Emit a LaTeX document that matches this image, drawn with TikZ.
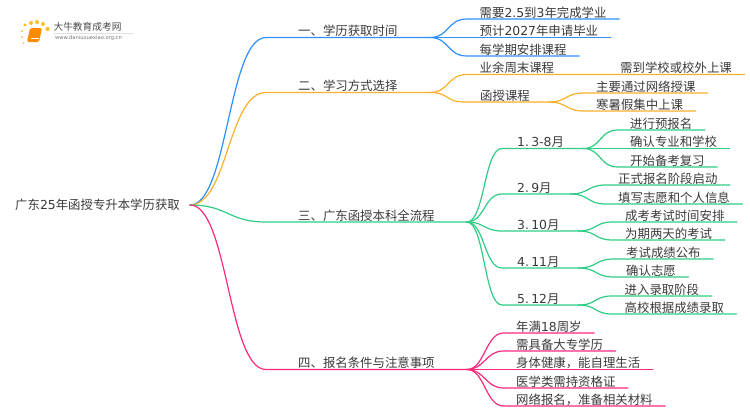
\documentclass[tikz,border=0pt]{standalone}
\usepackage{fontspec}
\setmainfont{DejaVu Sans}
\newfontfamily\cjkfont{Noto Sans CJK SC}
\newfontfamily\latfont{DejaVu Sans}
\newcommand{\lat}[1]{{\latfont\spaceskip=1pt #1}}
\definecolor{zhilan}{HTML}{2F8FFB}
\definecolor{zhicheng}{HTML}{FBB02A}
\definecolor{zhilv}{HTML}{2ECC85}
\definecolor{zhihong}{HTML}{FB2A7E}
\definecolor{zitihui}{HTML}{3A3A3A}
\tikzset{
	zi/.style={font=\cjkfont\fontsize{12.4}{14}\selectfont, text=zitihui, anchor=south west, inner ysep=0.5pt, text height=10pt, text depth=1pt},
	leaf/.style={zi, inner xsep=12.5pt},
	mid/.style={zi, inner xsep=15pt, execute at end node=\hspace{4pt}},
	top/.style={zi, inner xsep=32pt},
	bian/.style={line width=1.2pt, line cap=round}
}
\begin{document}
\begin{tikzpicture}[x=1pt,y=-1pt]
	\useasboundingbox (0,0) rectangle (750,410);
	%logo
	\foreach \dx/\dy/\dr in {25/25/1.6, 31/23/2, 37/22/2, 43/24/2, 47.5/29/2.2, 22/31/1.2, 22/37/1, 23.5/43/0.8}
		\fill[zhicheng!80!yellow] (\dx,\dy) circle (\dr);
	\fill[orange!90!yellow, rounded corners=1.5pt] (30,28) -- (42,28) -- (39,42) -- (27,42) -- cycle;
	\draw[white, line width=0.5pt] (31,38.5) -- (39,38.5);
	\draw[black!12, line width=0.5pt] (53,33) -- (133,33);
	\node[text=black!70, font=\cjkfont\fontsize{9.7}{11}\selectfont, inner sep=0pt] (logoming) at (87.5,27) {大牛教育成考网};
	\node[text=black!55, font=\latfont\fontsize{5.2}{6}\selectfont, inner sep=0pt] (logowang) at (88.5,38) {www.daniuxuexiao.org.cn};

	%Mitte
	\node[zi, anchor=east, inner xsep=10pt] (root) at (190,205) {广东\lat{25}年函授专升本学历获取};

	%Hauptzweige
	\node[top] (xueli) at (266,37.5) {一、学历获取时间};
	\node[top] (xuexi) at (266,92.5) {二、学习方式选择};
	\node[top] (liucheng) at (266,222) {三、广东函授本科全流程};
	\node[top] (tiaojian) at (266,369.5) {四、报名条件与注意事项};

	%erster Zweig
	\node[leaf] (xa) at (467,19) {需要\lat{2.5}到\lat{3}年完成学业};
	\node[leaf] (xb) at (467,37.5) {预计\lat{2027}年申请毕业};
	\node[leaf] (xc) at (467,56) {每学期安排课程};

	%zweiter Zweig
	\node[leaf] (fa) at (467,74.5) {业余周末课程};
	\node[leaf] (faa) at (607.5,74.5) {需到学校或校外上课};
	\node[mid] (fb) at (465,102) {函授课程};
	\node[leaf] (fba) at (583.5,93) {主要通过网络授课};
	\node[leaf] (fbb) at (583.5,111) {寒暑假集中上课};

	%dritter Zweig
	\node[mid] (la) at (502,148.5) {\lat{1. 3-8}月};
	\node[mid] (lb) at (502,194) {\lat{2. 9}月};
	\node[mid] (lc) at (502,231) {\lat{3. 10}月};
	\node[mid] (ld) at (502,268) {\lat{4. 11}月};
	\node[mid] (le) at (502,305) {\lat{5. 12}月};
	\node[leaf] (laa) at (617.5,130) {进行预报名};
	\node[leaf] (lab) at (617.5,148.5) {确认专业和学校};
	\node[leaf] (lac) at (617.5,167) {开始备考复习};
	\node[leaf] (lba) at (605.5,185) {正式报名阶段启动};
	\node[leaf] (lbb) at (605.5,204) {填写志愿和个人信息};
	\node[leaf] (lca) at (612.5,222) {成考考试时间安排};
	\node[leaf] (lcb) at (612.5,240) {为期两天的考试};
	\node[leaf] (lda) at (613.5,259) {考试成绩公布};
	\node[leaf] (ldb) at (613.5,277) {确认志愿};
	\node[leaf] (lea) at (612,296) {进入录取阶段};
	\node[leaf] (leb) at (612,314) {高校根据成绩录取};

	%vierter Zweig
	\node[leaf] (ta) at (503.5,333) {年满\lat{18}周岁};
	\node[leaf] (tb) at (503.5,351) {需具备大专学历};
	\node[leaf] (tc) at (503.5,369.5) {身体健康，能自理生活};
	\node[leaf] (td) at (503.5,388) {医学类需持资格证};
	\node[leaf] (te) at (503.5,406) {网络报名，准备相关材料};

	%Verbindungen
	\draw[bian, zhilan] (root.east) .. controls +(38,0) and +(-38,0) .. (xueli.south west) -- (xueli.south east);
	\foreach \ziel in {xa,xb,xc}
		\draw[bian, zhilan] (xueli.south east) .. controls +(20,0) and +(-20,0) .. (\ziel.south west) -- (\ziel.south east);

	\draw[bian, zhicheng] (root.east) .. controls +(38,0) and +(-38,0) .. (xuexi.south west) -- (xuexi.south east);
	\draw[bian, zhicheng] (xuexi.south east) .. controls +(20,0) and +(-20,0) .. (fa.south west) -- (fa.south east) -- (faa.south west) -- (faa.south east);
	\draw[bian, zhicheng] (xuexi.south east) .. controls +(20,0) and +(-20,0) .. (fb.south west) -- (fb.south east);
	\foreach \ziel in {fba,fbb}
		\draw[bian, zhicheng] (fb.south east) .. controls +(18,0) and +(-18,0) .. (\ziel.south west) -- (\ziel.south east);

	\draw[bian, zhilv] (root.east) .. controls +(38,0) and +(-38,0) .. (liucheng.south west) -- (liucheng.south east);
	\foreach \ziel in {la,lb,lc,ld,le}
		\draw[bian, zhilv] (liucheng.south east) .. controls +(18,0) and +(-18,0) .. (\ziel.south west) -- (\ziel.south east);
	\foreach \von/\ziel in {la/laa,la/lab,la/lac,lb/lba,lb/lbb,lc/lca,lc/lcb,ld/lda,ld/ldb,le/lea,le/leb}
		\draw[bian, zhilv] (\von.south east) .. controls +(18,0) and +(-18,0) .. (\ziel.south west) -- (\ziel.south east);

	\draw[bian, zhihong] (root.east) .. controls +(38,0) and +(-38,0) .. (tiaojian.south west) -- (tiaojian.south east);
	\foreach \ziel in {ta,tb,tc,td,te}
		\draw[bian, zhihong] (tiaojian.south east) .. controls +(18,0) and +(-18,0) .. (\ziel.south west) -- (\ziel.south east);
\end{tikzpicture}
\end{document}
